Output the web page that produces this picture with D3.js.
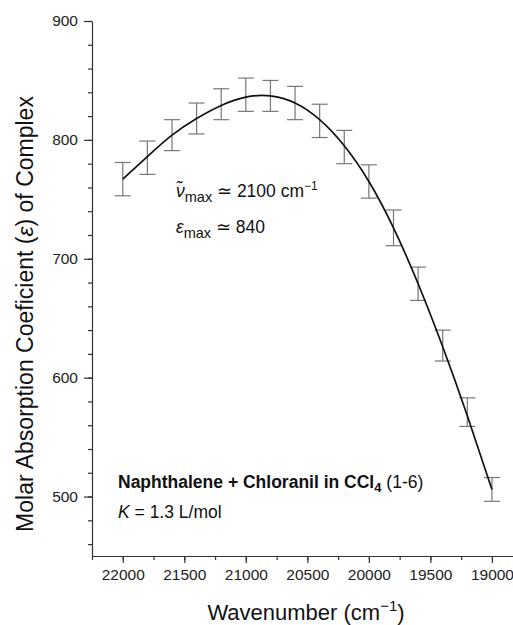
<!DOCTYPE html>
<head>
  <meta charset="utf-8">
  <script src="https://d3js.org/d3.v7.min.js"></script>
  <style>
    body { margin:0; background:#fff; }
    svg { display:block; font-family: "Liberation Sans", Arial, sans-serif; }
    .axis path, .axis line { stroke:#333; stroke-width:1.2px; }
    .axis text { fill:#222; font-size:15.5px; }
  </style>
</head>
<body>
<div id="chart"></div>
<script>
  // wavenumber of each measurement (cm-1)
  var wavenumbers = [22000, 21800, 21600, 21400, 21200, 21000, 20800, 20600,
                     20400, 20200, 20000, 19800, 19600, 19400, 19200, 19000];
  // measured epsilon and its error
  var epsilon = [767, 785, 804, 818, 830, 838, 837, 831, 816, 794, 765, 726, 679, 627, 571, 506];
  var errors  = [14, 14, 13, 13, 13, 14, 13, 14, 14, 14, 14, 15, 14, 13, 12, 10];
  // fitted curve through the points
  var fitted  = [767, 786, 804, 818, 829, 836, 837, 831, 817, 795, 765, 726, 679, 626, 568, 506];

  var xTicks = [22000, 21500, 21000, 20500, 20000, 19500, 19000];
  var yTicks = [500, 600, 700, 800, 900];

  var width = 513, height = 625;
  var margin = {top: 21, left: 92, bottom: 69};

  var svg = d3.select("#chart").append("svg")
    .attr("width", width)
    .attr("height", height);

  var x = d3.scaleLinear()
    .domain([22250, 18750])
    .range([margin.left, 522.7]);

  var y = d3.scaleLinear()
    .domain([450, 900])
    .range([height - margin.bottom, margin.top]);

  var data = wavenumbers.map(function(w, i) {
    return {w: w, e: epsilon[i], err: errors[i], fit: fitted[i]};
  });

  // minor ticks first, then the major ones on top
  svg.append("g").attr("class", "axis")
    .attr("transform", "translate(0," + y(450) + ")")
    .call(d3.axisBottom(x).tickValues(d3.range(22250, 18700, -250)).tickSize(4).tickFormat(""))
    .select(".domain").remove();
  svg.append("g").attr("class", "axis")
    .attr("transform", "translate(0," + y(450) + ")")
    .call(d3.axisBottom(x).tickValues(xTicks).tickSize(7).tickSizeOuter(0).tickPadding(6).tickFormat(d3.format("d")));

  svg.append("g").attr("class", "axis")
    .attr("transform", "translate(" + margin.left + ",0)")
    .call(d3.axisLeft(y).tickValues(d3.range(460, 901, 20)).tickSize(4).tickFormat(""))
    .select(".domain").remove();
  svg.append("g").attr("class", "axis")
    .attr("transform", "translate(" + margin.left + ",0)")
    .call(d3.axisLeft(y).tickValues(yTicks).tickSize(8).tickSizeOuter(0).tickPadding(6));

  // error bars
  var bars = svg.append("g").attr("stroke", "#777").attr("stroke-width", 1.2);
  bars.selectAll(".v").data(data).enter().append("line")
    .attr("x1", function(d) { return x(d.w); })
    .attr("x2", function(d) { return x(d.w); })
    .attr("y1", function(d) { return y(d.e - d.err); })
    .attr("y2", function(d) { return y(d.e + d.err); });
  [1, -1].forEach(function(s) {
    bars.selectAll(".c" + s).data(data).enter().append("line")
      .attr("x1", function(d) { return x(d.w) - 8; })
      .attr("x2", function(d) { return x(d.w) + 8; })
      .attr("y1", function(d) { return y(d.e + s * d.err); })
      .attr("y2", function(d) { return y(d.e + s * d.err); });
  });

  var line = d3.line()
    .curve(d3.curveNatural)
    .x(function(d) { return x(d.w); })
    .y(function(d) { return y(d.fit); });

  svg.append("path").datum(data)
    .attr("fill", "none")
    .attr("stroke", "#111")
    .attr("stroke-width", 1.7)
    .attr("d", line);

  // annotations
  var t1 = svg.append("text").attr("x", 176).attr("y", 197).attr("font-size", 17.5).attr("fill", "#111");
  t1.append("tspan").attr("font-style", "italic").text("ν̃");
  t1.append("tspan").attr("font-size", 14.5).attr("dy", 5).text("max");
  t1.append("tspan").attr("dy", -5).text(" ≃ 2100 cm");
  t1.append("tspan").attr("font-size", 12).attr("dy", -7).text("−1");

  var t2 = svg.append("text").attr("x", 176).attr("y", 233).attr("font-size", 17.5).attr("fill", "#111");
  t2.append("tspan").attr("font-style", "italic").text("ε");
  t2.append("tspan").attr("font-size", 14.5).attr("dy", 5).text("max");
  t2.append("tspan").attr("dy", -5).text(" ≃ 840");

  var t3 = svg.append("text").attr("x", 118).attr("y", 488).attr("font-size", 17.5).attr("fill", "#111");
  t3.append("tspan").attr("font-weight", "bold").text("Naphthalene + Chloranil in CCl");
  t3.append("tspan").attr("font-weight", "bold").attr("font-size", 13).attr("dy", 4).text("4");
  t3.append("tspan").attr("dy", -4).text(" (1-6)");

  var t4 = svg.append("text").attr("x", 118).attr("y", 518).attr("font-size", 17.5).attr("fill", "#111");
  t4.append("tspan").attr("font-style", "italic").text("K");
  t4.append("tspan").text(" = 1.3 L/mol");

  // axis titles
  var xt = svg.append("text").attr("x", 306).attr("y", 620).attr("text-anchor", "middle")
    .attr("font-size", 22).attr("fill", "#111");
  xt.append("tspan").text("Wavenumber (cm");
  xt.append("tspan").attr("font-size", 15).attr("dy", -9).text("−1");
  xt.append("tspan").attr("dy", 9).text(")");

  var yt = svg.append("text").attr("transform", "translate(33,314) rotate(-90)")
    .attr("text-anchor", "middle").attr("font-size", 23).attr("fill", "#111");
  yt.append("tspan").text("Molar Absorption Coeficient (");
  yt.append("tspan").attr("font-style", "italic").text("ε");
  yt.append("tspan").text(") of Complex");
</script>
</body>
